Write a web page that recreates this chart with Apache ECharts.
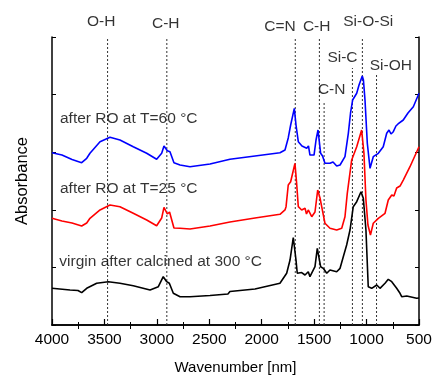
<!DOCTYPE html>
<html><head><meta charset="utf-8">
<script src="https://cdn.jsdelivr.net/npm/echarts@6/dist/echarts.min.js"></script>
<style>html,body{margin:0;padding:0;background:#fff}#c{width:432px;height:377px}</style>
</head><body><div id="c"></div>
<script>
// ---- data ----
const xTickValues = [4000, 3500, 3000, 2500, 2000, 1500, 1000, 500];
const topTickValues = [3750, 3250, 2750, 2250, 1750, 1250, 750];

const blueWn  = [4000,3905,3809,3717,3669,3638,3542,3447,3352,3225,3097,3002,2954,2932,2900,2875,2837,2779,2684,2493,2303,2064,1826,1778,1747,1724,1711,1689,1673,1651,1616,1571,1554,1540,1501,1482,1463,1438,1420,1397,1349,1320,1285,1253,1206,1174,1153,1133,1094,1072,1041,1030,1015,993,967,936,888,841,808,786,767,745,720,700,650,605,554,500];
const blueAbs = [2.991,2.951,2.873,2.818,2.894,2.981,3.182,3.259,3.212,3.095,2.981,2.877,2.981,3.108,3.026,3.009,2.818,2.778,2.748,2.795,2.877,2.934,2.991,3.038,3.247,3.472,3.438,3.762,3.472,3.182,3.108,3.068,3.108,2.951,2.951,3.212,3.385,2.981,2.934,2.807,2.807,2.830,2.760,2.778,2.922,3.328,3.681,3.906,4.023,4.167,4.323,4.253,3.906,3.155,2.720,2.922,2.981,3.095,3.328,3.385,3.316,3.356,3.455,3.490,3.559,3.681,3.790,4.023];

const redWn  = [4000,3905,3809,3717,3669,3638,3542,3447,3352,3225,3097,3002,2954,2932,2900,2879,2837,2779,2684,2493,2303,2064,1826,1778,1768,1747,1724,1705,1683,1667,1651,1619,1587,1573,1556,1523,1492,1466,1444,1428,1397,1349,1285,1237,1206,1184,1142,1094,1047,1025,1006,987,963,936,888,824,793,760,739,713,681,650,586,500];
const redAbs = [1.852,1.806,1.771,1.719,1.771,1.852,1.997,2.083,2.054,1.939,1.823,1.724,1.858,2.043,1.927,1.962,1.684,1.679,1.667,1.719,1.788,1.858,1.922,1.997,2.054,2.431,2.488,2.634,2.807,2.460,2.054,1.997,2.026,1.927,1.997,1.880,1.962,2.344,2.205,2.054,1.766,1.679,1.649,1.679,1.880,2.286,2.865,3.095,3.385,2.981,2.170,1.736,1.563,1.766,1.852,1.939,2.170,2.257,2.240,2.378,2.413,2.517,2.748,3.095];

const blackWn  = [4000,3828,3752,3717,3669,3574,3463,3352,3225,3065,2986,2939,2906,2881,2843,2779,2684,2493,2322,2303,2064,1826,1762,1730,1716,1699,1673,1661,1619,1587,1556,1540,1492,1470,1438,1413,1380,1349,1285,1253,1222,1190,1158,1127,1094,1053,1031,1006,984,951,903,872,824,793,760,713,681,665,617,522,500];
const blackAbs = [0.637,0.608,0.599,0.561,0.637,0.724,0.752,0.724,0.682,0.608,0.665,0.839,0.752,0.724,0.550,0.491,0.491,0.512,0.538,0.582,0.625,0.724,0.898,1.128,1.094,1.519,1.128,0.898,0.911,0.868,0.925,0.839,1.012,1.332,1.012,0.984,0.898,0.955,0.925,0.984,1.186,1.389,1.649,2.054,2.141,2.314,2.200,1.649,0.665,0.637,0.694,0.637,0.724,0.793,0.752,0.637,0.550,0.491,0.503,0.464,0.469];

const bandNames    = ['O-H', 'C-H', 'C=N', 'C-H', 'C-N', 'Si-C', 'Si-O-Si', 'Si-OH'];
const bandWn       = [3470, 2905, 1680, 1450, 1405, 1135, 1040, 905];
const bandLineTop  = [5, 5, 5, 5, 3.854, 4.462, 5, 4.375];
const bandLabelWn  = [3531, 2915, 1826, 1476, 1333, 1230, 984, 769];
const bandLabelAbs = [5.266, 5.238, 5.179, 5.179, 4.089, 4.644, 5.266, 4.505];

const sampleNames    = ['after RO at T=60 °C', 'after RO at T=25 °C', 'virgin after calcined at 300 °C'];
const sampleLabelWn  = [3924, 3924, 3930];
const sampleLabelAbs = [3.576, 2.370, 1.094];

// ---- chart ----
const FONT = 'Liberation Sans, Arial, Helvetica, sans-serif';
const zip = (a, b) => a.map((v, i) => [v, b[i]]);
const chart = echarts.init(document.getElementById('c'), null, {renderer: 'canvas'});

const bandSeries = bandWn.map((w, i) => ({
  type: 'line', xAxisIndex: 0, yAxisIndex: 0, silent: true, symbol: 'none', z: 1,
  data: [[w, 0], [w, bandLineTop[i]]],
  lineStyle: {color: '#333', width: 1, type: [2, 2]}
}));

const spectra = [
  {name: 'blue', wn: blueWn, abs: blueAbs, color: '#0000ff'},
  {name: 'red', wn: redWn, abs: redAbs, color: '#ff0000'},
  {name: 'black', wn: blackWn, abs: blackAbs, color: '#000000'}
].map(s => ({
  type: 'line', name: s.name, symbol: 'none', silent: true, z: 3,
  data: zip(s.wn, s.abs),
  lineStyle: {color: s.color, width: 1.6}
}));

const labelItems = bandNames.map((n, i) => ({
  name: n, value: [bandLabelWn[i], bandLabelAbs[i]],
  label: {align: 'center'}
})).concat(sampleNames.map((n, i) => ({
  name: n, value: [sampleLabelWn[i], sampleLabelAbs[i]],
  label: {align: 'left'}
})));

chart.setOption({
  animation: false,
  backgroundColor: '#fff',
  grid: {left: 52, right: 13, top: 37, bottom: 52, outerBoundsMode: 'none', containLabel: false},
  xAxis: [{
    type: 'value', min: 500, max: 4000, interval: 500, inverse: true,
    position: 'bottom',
    name: 'Wavenumber [nm]', nameLocation: 'middle', nameGap: 35,
    nameTextStyle: {fontFamily: FONT, fontSize: 15, color: '#000'},
    axisLine: {show: true, lineStyle: {color: '#000', width: 1.5}},
    axisTick: {show: true, inside: true, length: 6, customValues: xTickValues, lineStyle: {color: '#000', width: 1.2}},
    minorTick: {show: true, splitNumber: 2, length: 3, lineStyle: {color: '#000', width: 1}},
    axisLabel: {fontFamily: FONT, fontSize: 15.5, color: '#000', margin: 7, formatter: v => String(v)},
    splitLine: {show: false}
  }, {
    type: 'value', min: 500, max: 4000, inverse: true, position: 'top',
    axisLine: {show: true, lineStyle: {color: '#000', width: 1.5}},
    axisTick: {show: true, inside: true, length: 4, customValues: topTickValues, lineStyle: {color: '#000', width: 1}},
    axisLabel: {show: false},
    splitLine: {show: false}
  }],
  yAxis: [{
    type: 'value', min: 0, max: 5, interval: 1, position: 'left',
    name: 'Absorbance', nameLocation: 'middle', nameGap: 21,
    nameTextStyle: {fontFamily: FONT, fontSize: 16.5, color: '#000'},
    axisLine: {show: true, lineStyle: {color: '#000', width: 1.5}},
    axisTick: {show: true, inside: true, length: 4, lineStyle: {color: '#000', width: 1}},
    axisLabel: {show: false},
    splitLine: {show: false}
  }, {
    type: 'value', min: 0, max: 5, interval: 1, position: 'right',
    axisLine: {show: true, onZero: false, lineStyle: {color: '#000', width: 1.5}},
    axisTick: {show: true, inside: true, length: 4, lineStyle: {color: '#000', width: 1}},
    axisLabel: {show: false},
    splitLine: {show: false}
  }],
  series: bandSeries.concat(spectra).concat([{
    type: 'scatter', silent: true, clip: false, z: 5,
    symbolSize: 1, itemStyle: {color: 'rgba(0,0,0,0)'},
    label: {show: true, position: 'inside', formatter: '{b}', color: '#000',
            fontFamily: FONT, fontSize: 15.5, verticalAlign: 'middle'},
    data: labelItems
  }])
});
</script>
</body></html>
